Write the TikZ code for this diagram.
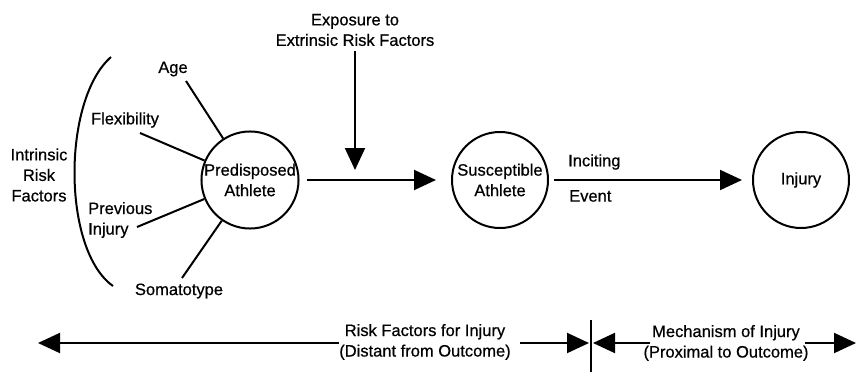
\documentclass[tikz,border=0pt]{standalone}
\usepackage{fontspec}
\setmainfont{Liberation Sans}[FakeBold=0.6]
\usetikzlibrary{arrows.meta}
\begin{document}
\begin{tikzpicture}[x=1pt,y=-1pt,
  lbl/.style={inner sep=1pt,align=center,font=\fontsize{16.5}{20.5}\selectfont},
  circ/.style={circle,draw,line width=2pt,minimum size=96pt,inner sep=0pt,align=center,font=\fontsize{16.5}{20.5}\selectfont},
  ln/.style={line width=2pt},
  arr/.style={line width=2pt,-{Triangle[length=22pt,width=20pt]}}]
\useasboundingbox (0,0) rectangle (857,372);
% circles
\node[circ] (pred) at (250,180) {Predisposed\\Athlete};
\node[circ] (susc) at (500,180) {Susceptible\\Athlete};
\node[circ] (inj) at (801,180) {Injury};
% factor labels
\node[lbl] (age) at (173,69) {Age};
\node[lbl] (flex) at (125,120) {Flexibility};
\node[lbl,align=left,anchor=west] (prev) at (87,220) {Previous\\Injury};
\node[lbl] (soma) at (179,291) {Somatotype};
\node[lbl] (intr) at (39,175) {Intrinsic\\Risk\\Factors};
\node[lbl] (expo) at (355,30) {Exposure to\\Extrinsic Risk Factors};
\node[lbl,anchor=west] (inc) at (567,162) {Inciting};
\node[lbl,anchor=west] (evt) at (568,196) {Event};
% factor lines
\coordinate (ageS) at (186,81);
\coordinate (flexS) at (140,133);
\coordinate (prevS) at (137,227);
\coordinate (somaS) at (182,278);
\draw[ln] (ageS) -- (pred);
\draw[ln] (flexS) -- (pred);
\draw[ln] (prevS) -- (pred);
\draw[ln] (somaS) -- (pred);
% bracket
\coordinate (brT) at (111,57);
\coordinate (brB) at (113,286);
\draw[ln] (brT) .. controls (62,100) and (62,250) .. (brB);
% main arrows
\draw[arr,shorten <=7pt,shorten >=15pt] (pred) -- (susc);
\coordinate (expoT) at (355,170);
\draw[arr,shorten <=4pt] (expo) -- (expoT);
\draw[arr,shorten <=5pt,shorten >=10pt] (susc) -- (inj);
% bottom
\node[lbl] (rf) at (425,342) {Risk Factors for Injury\\(Distant from Outcome)};
\node[lbl] (mech) at (726,343) {Mechanism of Injury\\(Proximal to Outcome)};
\coordinate (leftT) at (38,343);
\coordinate (barT) at (591,320);
\coordinate (barB) at (591,372);
\coordinate (barM) at (591,343);
\coordinate (rightT) at (856,343);
\draw[line width=2.6pt] (barT) -- (barB);
\draw[arr,shorten <=-1pt] (rf.west |- leftT) -- (leftT);
\draw[arr,shorten <=8pt,shorten >=2pt] (rf.east |- barM) -- (barM);
\draw[arr,shorten <=-8pt,shorten >=2pt] (mech.west |- barM) -- (barM);
\draw[arr,shorten <=-5pt] (mech.east |- rightT) -- (rightT);
\end{tikzpicture}
\end{document}
